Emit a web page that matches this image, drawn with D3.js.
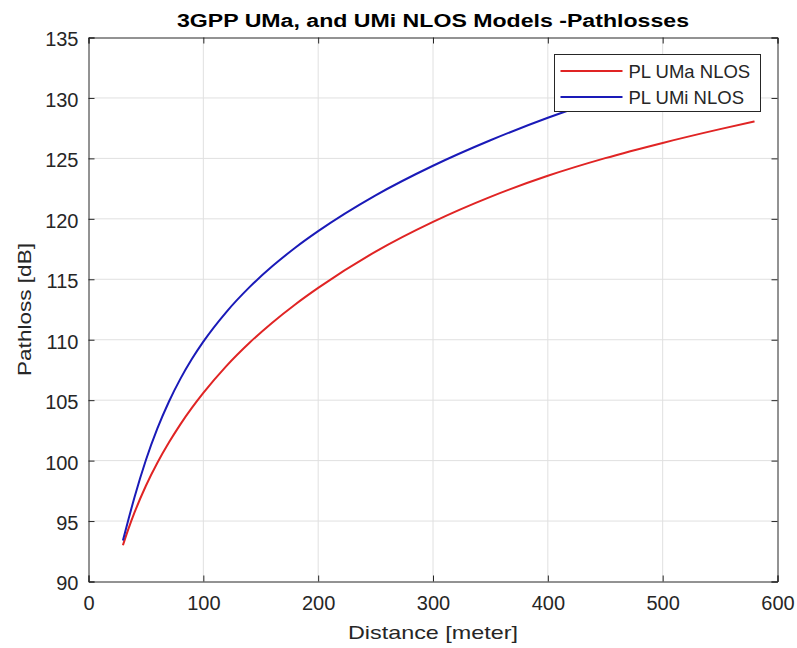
<!DOCTYPE html>
<html>
<head>
<meta charset="utf-8">
<script src="https://cdn.jsdelivr.net/npm/d3@7"></script>
<style>
  body { margin: 0; background: #fff; }
  text { font-family: "Liberation Sans", Arial, sans-serif; fill: #262626; }
</style>
</head>
<body>
<script>
// Data
const distance = [30, 35, 40, 50, 60, 70, 80, 90, 100, 120, 140, 160, 180, 200, 250, 300, 350, 400, 450, 500, 550, 580];
const plUMa = [93.0, 94.41, 95.69, 97.92, 99.82, 101.49, 103.0, 104.36, 105.6, 107.82, 109.73, 111.41, 112.92, 114.29, 117.29, 119.75, 121.82, 123.56, 125.02, 126.28, 127.42, 128.06];
const plUMi = [93.4, 95.21, 96.95, 100.05, 102.66, 104.87, 106.76, 108.4, 109.84, 112.29, 114.33, 116.07, 117.61, 118.98, 121.94, 124.39, 126.5, 128.36, 130.0, 131.42, 132.7, 133.42];
const seriesNames = ["PL UMa NLOS", "PL UMi NLOS"];
const xTicks = [0, 100, 200, 300, 400, 500, 600];
const yTicks = [90, 95, 100, 105, 110, 115, 120, 125, 130, 135];

// Constants
const width = 797;
const height = 648;
const margin = {top: 37.5, right: 19.5, bottom: 66.5, left: 88.5};
const colors = ["#e02424", "#1a1ab8"];
const axis_color = "#262626";
const grid_color = "#e0e0e0";
const tick_len = 6;

const x = d3.scaleLinear().domain([0, 600]).range([margin.left, width - margin.right]);
const y = d3.scaleLinear().domain([90, 135]).range([height - margin.bottom, margin.top]);

const svg = d3.select("body").append("svg")
    .attr("width", width)
    .attr("height", height)
    .attr("viewBox", [0, 0, width, height]);

// Grid
svg.append("g")
  .selectAll("line")
  .data(xTicks.slice(1, -1))
  .join("line")
    .attr("x1", d => x(d)).attr("x2", d => x(d))
    .attr("y1", margin.top).attr("y2", height - margin.bottom)
    .attr("stroke", grid_color);
svg.append("g")
  .selectAll("line")
  .data(yTicks.slice(1, -1))
  .join("line")
    .attr("y1", d => y(d)).attr("y2", d => y(d))
    .attr("x1", margin.left).attr("x2", width - margin.right)
    .attr("stroke", grid_color);

// Curves
const line = d3.line()
    .x(d => x(d[0]))
    .y(d => y(d[1]))
    .curve(d3.curveMonotoneX);
const series = [plUMa, plUMi];
svg.append("g")
  .selectAll("path")
  .data(series)
  .join("path")
    .attr("fill", "none")
    .attr("stroke", (d, i) => colors[i])
    .attr("stroke-width", 2)
    .attr("d", vals => line(distance.map((dist, i) => [dist, vals[i]])));

// Axes (box on, ticks pointing inward)
const bottomAxis = d3.axisBottom(x).tickValues(xTicks).tickSize(-tick_len).tickPadding(14);
const topAxis = d3.axisTop(x).tickValues(xTicks).tickSize(-tick_len).tickFormat("");
const leftAxis = d3.axisLeft(y).tickValues(yTicks).tickSize(-tick_len).tickPadding(10);
const rightAxis = d3.axisRight(y).tickValues(yTicks).tickSize(-tick_len).tickFormat("");

function styleAxis(g) {
  g.select(".domain").attr("stroke", axis_color);
  g.selectAll(".tick line").attr("stroke", axis_color);
  g.selectAll(".tick text")
    .attr("font-family", "Liberation Sans, Arial, sans-serif")
    .attr("font-size", 20)
    .attr("fill", axis_color);
}

svg.append("g").attr("transform", `translate(0,${height - margin.bottom})`).call(bottomAxis).call(styleAxis);
svg.append("g").attr("transform", `translate(0,${margin.top})`).call(topAxis).call(styleAxis);
svg.append("g").attr("transform", `translate(${margin.left},0)`).call(leftAxis).call(styleAxis)
  .selectAll(".tick text").attr("dy", "0.42em");
svg.append("g").attr("transform", `translate(${width - margin.right},0)`).call(rightAxis).call(styleAxis);

// Title and labels
svg.append("text")
    .attr("x", (margin.left + width - margin.right) / 2)
    .attr("y", 27)
    .attr("text-anchor", "middle")
    .attr("font-size", 18)
    .attr("font-weight", "bold")
    .attr("textLength", 512)
    .attr("lengthAdjust", "spacingAndGlyphs")
    .style("fill", "#000")
    .text("3GPP UMa, and UMi NLOS Models -Pathlosses");

svg.append("text")
    .attr("x", (margin.left + width - margin.right) / 2)
    .attr("y", 639)
    .attr("text-anchor", "middle")
    .attr("font-size", 19)
    .attr("textLength", 170)
    .attr("lengthAdjust", "spacingAndGlyphs")
    .text("Distance [meter]");

svg.append("text")
    .attr("transform", `translate(31,${(margin.top + height - margin.bottom) / 2}) rotate(-90)`)
    .attr("text-anchor", "middle")
    .attr("font-size", 19)
    .attr("textLength", 133)
    .attr("lengthAdjust", "spacingAndGlyphs")
    .text("Pathloss [dB]");

// Legend
const legend = svg.append("g").attr("transform", "translate(554.5,54.5)");
legend.append("rect")
    .attr("width", 206)
    .attr("height", 57)
    .attr("fill", "#fff")
    .attr("stroke", axis_color);
const item = legend.selectAll("g.item")
  .data(seriesNames)
  .join("g")
    .attr("class", "item")
    .attr("transform", (d, i) => `translate(0,${16.5 + i * 26})`);
item.append("line")
    .attr("x1", 6).attr("x2", 68)
    .attr("stroke", (d, i) => colors[i])
    .attr("stroke-width", 2);
item.append("text")
    .attr("x", 74)
    .attr("y", 6.7)
    .attr("font-size", 18.5)
    .text(d => d);
</script>
</body>
</html>
